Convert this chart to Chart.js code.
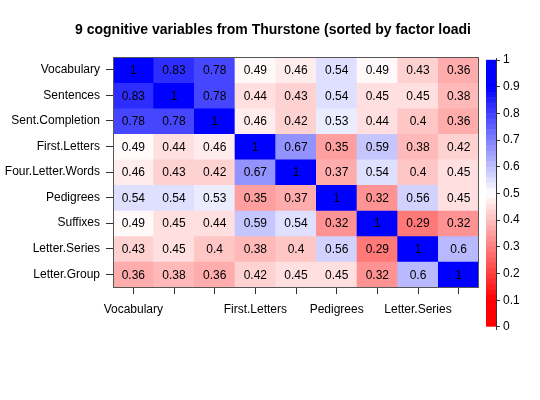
<!DOCTYPE html>
<html>
<head>
<meta charset="utf-8">
<script src="https://cdn.jsdelivr.net/npm/chart.js@4.4.0/dist/chart.umd.min.js"></script>
<style>
  body { margin: 0; background: #fff; }
  #wrap { position: relative; width: 540px; height: 400px; }
  #main { position: absolute; left: 0; top: 0; }
  #scaleBar { position: absolute; left: 470px; top: 0; }
</style>
</head>
<body>
<div id="wrap">
  <canvas id="main" width="540" height="400"></canvas>
  <canvas id="scaleBar" width="70" height="400"></canvas>
</div>
<script>
// variables, in the order of the plot (top row first)
const variables = ['Vocabulary', 'Sentences', 'Sent.Completion', 'First.Letters',
  'Four.Letter.Words', 'Pedigrees', 'Suffixes', 'Letter.Series', 'Letter.Group'];

// only some column labels fit under the plot
const xTickLabels = ['Vocabulary', '', '', 'First.Letters', '', 'Pedigrees', '', 'Letter.Series', ''];

// correlations, one array per row
const rVocabulary      = [1, 0.83, 0.78, 0.49, 0.46, 0.54, 0.49, 0.43, 0.36];
const rSentences       = [0.83, 1, 0.78, 0.44, 0.43, 0.54, 0.45, 0.45, 0.38];
const rSentCompletion  = [0.78, 0.78, 1, 0.46, 0.42, 0.53, 0.44, 0.4, 0.36];
const rFirstLetters    = [0.49, 0.44, 0.46, 1, 0.67, 0.35, 0.59, 0.38, 0.42];
const rFourLetterWords = [0.46, 0.43, 0.42, 0.67, 1, 0.37, 0.54, 0.4, 0.45];
const rPedigrees       = [0.54, 0.54, 0.53, 0.35, 0.37, 1, 0.32, 0.56, 0.45];
const rSuffixes        = [0.49, 0.45, 0.44, 0.59, 0.54, 0.32, 1, 0.29, 0.32];
const rLetterSeries    = [0.43, 0.45, 0.4, 0.38, 0.4, 0.56, 0.29, 1, 0.6];
const rLetterGroup     = [0.36, 0.38, 0.36, 0.42, 0.45, 0.45, 0.32, 0.6, 1];

const corr = [rVocabulary, rSentences, rSentCompletion, rFirstLetters, rFourLetterWords,
  rPedigrees, rSuffixes, rLetterSeries, rLetterGroup];

// colour key ticks
const legendTicks = [0, 0.1, 0.2, 0.3, 0.4, 0.5, 0.6, 0.7, 0.8, 0.9, 1];

const title = '9 cognitive variables from Thurstone (sorted by factor loadi';

const FONT = '"Liberation Sans", Arial, Helvetica, sans-serif';
const NBINS = 50;

// red - white - blue ramp, binned like the original
function cellColor(v) {
  const bin = Math.min(NBINS - 1, Math.floor(v * NBINS + 1e-9));
  const c = (bin + 0.5) / NBINS;
  if (c < 0.5) {
    const t = Math.min(1, (0.5 - c) / 0.4);
    const g = Math.round(255 * (1 - t));
    return `rgb(255,${g},${g})`;
  }
  const t = Math.min(1, (c - 0.5) / 0.4);
  const g = Math.round(255 * (1 - t));
  return `rgb(${g},${g},255)`;
}

// cell labels, frame and title
const cellText = {
  id: 'cellText',
  afterDatasetsDraw(chart) {
    const ctx = chart.ctx;
    ctx.save();
    ctx.font = '12px ' + FONT;
    ctx.fillStyle = '#000';
    ctx.textAlign = 'center';
    ctx.textBaseline = 'middle';
    chart.data.datasets.forEach((ds, r) => {
      const meta = chart.getDatasetMeta(r);
      meta.data.forEach((bar, c) => {
        ctx.fillText(String(corr[r][c]), bar.x, (bar.y + bar.base) / 2 + 1);
      });
    });
    const a = chart.chartArea;
    ctx.strokeStyle = '#555';
    ctx.lineWidth = 1;
    ctx.strokeRect(Math.round(a.left) + 0.5, Math.round(a.top) + 0.5,
      Math.round(a.right - a.left) - 1, Math.round(a.bottom - a.top));
    ctx.font = 'bold 14px ' + FONT;
    ctx.fillText(title, 273, 30);
    ctx.restore();
  }
};

new Chart(document.getElementById('main'), {
  type: 'bar',
  data: {
    labels: variables,
    datasets: corr.map((row, r) => ({
      label: variables[r],
      data: row.map(() => [r, r + 1]),
      backgroundColor: row.map(cellColor),
      borderWidth: 0,
      grouped: false,
      barPercentage: 1,
      categoryPercentage: 1
    }))
  },
  options: {
    responsive: false,
    animation: false,
    devicePixelRatio: 1,
    layout: { padding: { top: 57, right: 61, left: 0, bottom: 0 } },
    plugins: {
      legend: { display: false },
      title: { display: false },
      tooltip: { enabled: false }
    },
    scales: {
      x: {
        type: 'category',
        offset: true,
        grid: { offset: false, drawOnChartArea: false, tickLength: 7, color: '#333', tickColor: '#333' },
        border: { display: false },
        ticks: {
          autoSkip: false, maxRotation: 0, minRotation: 0, padding: 8,
          color: '#000', font: { family: FONT, size: 12 },
          callback: (v, i) => xTickLabels[i]
        },
        afterFit: s => { s.height = 113; }
      },
      y: {
        type: 'linear',
        min: 0,
        max: 9,
        reverse: true,
        afterBuildTicks: s => { s.ticks = variables.map((_, i) => ({ value: i + 0.5 })); },
        grid: { drawOnChartArea: false, tickLength: 7, color: '#333', tickColor: '#333' },
        border: { display: false },
        ticks: {
          autoSkip: false, padding: 6,
          color: '#000', font: { family: FONT, size: 12 },
          callback: (v, i) => variables[i]
        },
        afterFit: s => { s.width = 113; }
      }
    }
  },
  plugins: [cellText]
});

// colour key
const keyBins = [];
for (let i = 0; i < NBINS; i++) keyBins.push(i / NBINS);

new Chart(document.getElementById('scaleBar'), {
  type: 'bar',
  data: {
    labels: [''],
    datasets: keyBins.map(lo => ({
      data: [[lo, lo + 1 / NBINS]],
      backgroundColor: cellColor(lo + 0.5 / NBINS),
      borderWidth: 0,
      grouped: false,
      barPercentage: 1,
      categoryPercentage: 1
    }))
  },
  options: {
    responsive: false,
    animation: false,
    devicePixelRatio: 1,
    layout: { padding: { top: 58, left: 16, bottom: 71, right: 0 } },
    plugins: {
      legend: { display: false },
      title: { display: false },
      tooltip: { enabled: false }
    },
    scales: {
      x: { display: false },
      y: {
        position: 'right',
        min: -0.008,
        max: 1.008,
        afterBuildTicks: s => { s.ticks = legendTicks.map(v => ({ value: v })); },
        grid: { drawOnChartArea: false, tickLength: 4, color: '#333', tickColor: '#333' },
        border: { display: true, color: '#333' },
        ticks: {
          autoSkip: false, padding: 3,
          color: '#000', font: { family: FONT, size: 12 },
          callback: (v, i) => String(legendTicks[i])
        },
        afterFit: s => { s.width = 44; }
      }
    }
  }
});
</script>
</body>
</html>
